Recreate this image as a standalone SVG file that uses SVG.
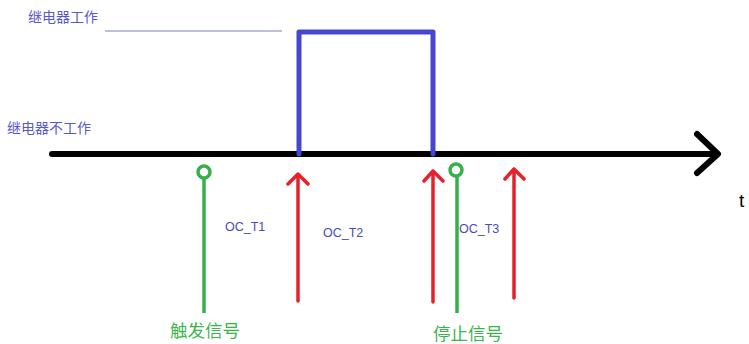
<svg xmlns="http://www.w3.org/2000/svg" width="749" height="344" viewBox="0 0 749 344">
<style>
.lbl{font-family:"Microsoft YaHei","Noto Sans CJK SC","Liberation Sans",sans-serif;font-size:14px;fill:#5858c8}
.oc{font-family:"Liberation Sans","Noto Sans CJK SC",sans-serif;font-size:12.5px;fill:#4a4ab8}
.gtxt{font-family:"Noto Sans CJK SC","Liberation Sans",sans-serif;font-size:17.5px;fill:#3cb44c}
.red{stroke:#e8202a;stroke-width:3.5;fill:none;stroke-linecap:round;stroke-linejoin:round}
.green{stroke:#36b04a;stroke-width:3.5;fill:none}
</style>
<rect width="749" height="344" fill="#fff"/>
<g id="labels">
<text class="lbl" x="28" y="22">继电器工作</text>
<line x1="105" y1="31" x2="282" y2="31" stroke="#7a80b4" stroke-width="1"/>
<text class="lbl" x="7" y="133">继电器不工作</text>
</g>
<g id="axis">
<line x1="52" y1="154" x2="716" y2="154" stroke="#000" stroke-width="6" stroke-linecap="round"/>
<polyline points="697,134 718,154 697,173" fill="none" stroke="#000" stroke-width="6" stroke-linecap="round" stroke-linejoin="round"/>
<text x="739" y="207" font-family="Liberation Sans,sans-serif" font-size="19" fill="#000">t</text>
</g>
<g id="pulse">
<polyline points="299,154 299,32 433,32 433,154" fill="none" stroke="#4646d2" stroke-width="5" stroke-linecap="round" stroke-linejoin="round"/>
</g>
<g id="trigger">
<circle cx="204" cy="172" r="6" class="green"/>
<line x1="204" y1="178" x2="204" y2="313" class="green"/>
<text class="gtxt" x="170" y="337">触发信号</text>
</g>
<g id="stop">
<circle cx="456" cy="170" r="6" class="green"/>
<line x1="457" y1="176" x2="457" y2="313" class="green"/>
<text class="gtxt" x="433" y="340">停止信号</text>
</g>
<g id="connectors">
<path class="red" d="M298,301 V174 M288,184 L298,174 L308,184"/>
<path class="red" d="M433,302 V171 M424,181 L433,171 L443,181"/>
<path class="red" d="M514,298 V169 M505,179 L514,169 L524,179"/>
</g>
<g id="oc-labels">
<text class="oc" x="225" y="231">OC_T1</text>
<text class="oc" x="323" y="237">OC_T2</text>
<text class="oc" x="459" y="233">OC_T3</text>
</g>
</svg>
